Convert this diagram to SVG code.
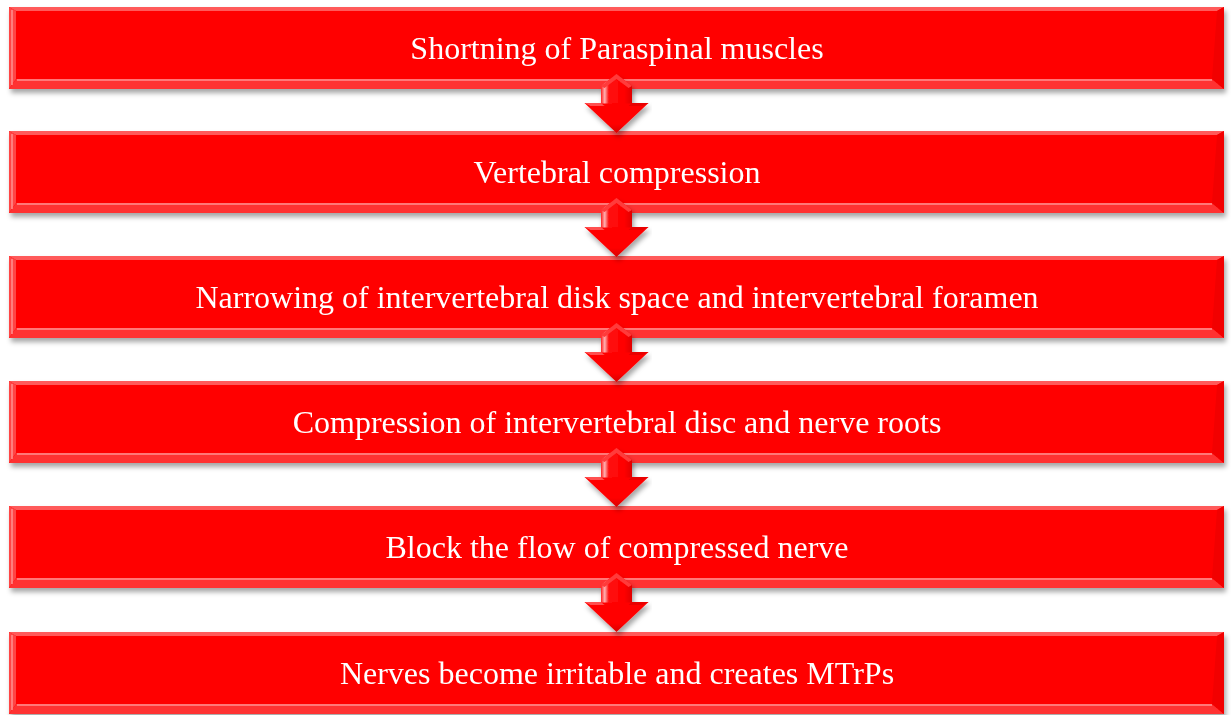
<svg xmlns="http://www.w3.org/2000/svg" xmlns:xlink="http://www.w3.org/1999/xlink" width="1231" height="715" viewBox="0 0 1231 715">
  <style>
    .box { fill: #FF0000; }
    .bev-top { fill: #FF5A5A; }
    .bev-left { fill: #FF4545; }
    .bev-bottom { fill: #FF3030; }
    .bev-right { fill: #F20000; }
    .hl { fill: none; stroke: #FF9090; stroke-width: 1.5; }
    .label { font-family: "Liberation Serif", "Times New Roman", serif; font-size: 32px; fill: #FFFFFF; text-anchor: middle; }
  </style>
  <defs>
    <filter id="shadow" x="-5%" y="-20%" width="110%" height="150%">
      <feDropShadow dx="2" dy="4" stdDeviation="2.5" flood-color="#000000" flood-opacity="0.35"/>
    </filter>
    <linearGradient id="arrowShaft" x1="0" y1="0" x2="1" y2="0">
      <stop offset="0" stop-color="#FF2020"/>
      <stop offset="0.12" stop-color="#FFB0B0"/>
      <stop offset="0.25" stop-color="#FF1010"/>
      <stop offset="0.75" stop-color="#FF0000"/>
      <stop offset="1" stop-color="#E00000"/>
    </linearGradient>
    <linearGradient id="arrowHead" x1="0" y1="0" x2="0" y2="1">
      <stop offset="0" stop-color="#FF0000"/>
      <stop offset="0.7" stop-color="#FF0000"/>
      <stop offset="1" stop-color="#D80000"/>
    </linearGradient>
    <g id="arrow">
      <polygon points="-32,14 32,14 0,44" fill="url(#arrowHead)"/>
      <polygon points="-15.5,-3 0,-15 15.5,-3 15.5,14.5 -15.5,14.5" fill="url(#arrowShaft)"/>
      <polygon points="-15.5,-3 0,-15 15.5,-3 12,-1 0,-10 -12,-1" fill="#FF3A3A"/>
      <polygon points="-32,14 -15.5,14 -12,17 -26,17" fill="#FF5050"/>
      <polygon points="32,14 15.5,14 12,17 26,17" fill="#E80000"/>
    </g>
    <g id="bevel">
      <polygon class="bev-top" points="0,0 1215,0 1208,4 7,4"/>
      <polygon class="bev-left" points="0,0 7,4 7,72 0,82"/>
      <polygon class="bev-bottom" points="0,82 7,72 1203,72 1215,82"/>
      <polygon class="bev-right" points="1215,0 1208,4 1203,72 1215,82"/>
      <line class="hl" x1="8" y1="73" x2="1203" y2="73"/>
      <line class="hl" x1="3" y1="3" x2="3" y2="78"/>
    </g>
  </defs>

  <g id="node1" filter="url(#shadow)">
    <rect class="box" x="9" y="7" width="1215" height="82"/>
    <use href="#bevel" x="9" y="7"/>
    <text class="label" x="617" y="59">Shortning of Paraspinal muscles</text>
  </g>
  <g id="node2" filter="url(#shadow)">
    <rect class="box" x="9" y="131" width="1215" height="82"/>
    <use href="#bevel" x="9" y="131"/>
    <text class="label" x="617" y="183">Vertebral compression</text>
  </g>
  <g id="node3" filter="url(#shadow)">
    <rect class="box" x="9" y="256" width="1215" height="82"/>
    <use href="#bevel" x="9" y="256"/>
    <text class="label" x="617" y="308">Narrowing of intervertebral disk space and intervertebral foramen</text>
  </g>
  <g id="node4" filter="url(#shadow)">
    <rect class="box" x="9" y="381" width="1215" height="82"/>
    <use href="#bevel" x="9" y="381"/>
    <text class="label" x="617" y="433">Compression of intervertebral disc and nerve roots</text>
  </g>
  <g id="node5" filter="url(#shadow)">
    <rect class="box" x="9" y="506" width="1215" height="82"/>
    <use href="#bevel" x="9" y="506"/>
    <text class="label" x="617" y="558">Block the flow of compressed nerve</text>
  </g>
  <g id="node6" filter="url(#shadow)">
    <rect class="box" x="9" y="632" width="1215" height="82"/>
    <use href="#bevel" x="9" y="632"/>
    <text class="label" x="617" y="684">Nerves become irritable and creates MTrPs</text>
  </g>

  <g id="connectors" filter="url(#shadow)">
    <use href="#arrow" transform="translate(616.5,89)"/>
    <use href="#arrow" transform="translate(616.5,213)"/>
    <use href="#arrow" transform="translate(616.5,338)"/>
    <use href="#arrow" transform="translate(616.5,463)"/>
    <use href="#arrow" transform="translate(616.5,588)"/>
  </g>
</svg>
